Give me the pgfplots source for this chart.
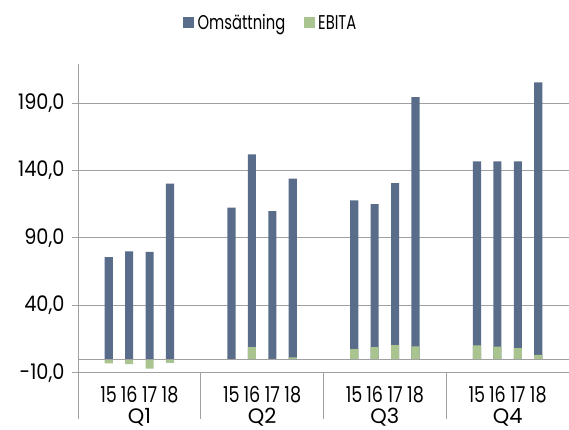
\documentclass[border=0pt]{standalone}
\usepackage{fontspec}
\setmainfont{Poppins}
\newfontfamily\tickfont{Poppins}[FakeStretch=0.9]
\newfontfamily\yearfont{Poppins}[FakeStretch=0.8]
\newfontfamily\legfont{Poppins}[FakeStretch=0.74]
\newfontfamily\qfont{Poppins}[FakeStretch=1.0]
\usepackage{pgfplots}
\pgfplotsset{compat=1.18}
\definecolor{oms}{RGB}{89,109,139}
\definecolor{ebita}{RGB}{169,196,142}
\definecolor{gridc}{RGB}{160,160,160}
\begin{document}
\begin{tikzpicture}
\begin{axis}[
  at={(0,0)}, anchor=south west,
  scale only axis, width=491bp, height=308.7bp,
  xmin=0, xmax=24, ymin=-10, ymax=219,
  clip=false,
  axis lines*=left,
  axis line style={gridc, line width=0.9bp},
  ytick={-10,40,90,140,190},
  ymajorgrids, grid style={gridc, line width=0.9bp},
  tick align=outside, major tick length=6bp,
  y tick style={gridc, line width=0.9bp},
  x tick style={draw=none},
  /pgf/number format/fixed, /pgf/number format/fixed zerofill,
  /pgf/number format/precision=1, /pgf/number format/use comma,
  /pgf/number format/assume math mode=true,
  yticklabel style={font=\tickfont\fontsize{21.5}{24}\selectfont, xshift=-4bp},
  xtick={1.5,2.5,3.5,4.5,7.5,8.5,9.5,10.5,13.5,14.5,15.5,16.5,19.5,20.5,21.5,22.5},
  xticklabels={15,16,17,18,15,16,17,18,15,16,17,18,15,16,17,18},
  xticklabel style={font=\yearfont\fontsize{22}{24}\selectfont, anchor=base, yshift=-23.5bp},
  ybar, bar width=0.4,
  legend columns=2,
  legend style={draw=none, fill=none, font=\legfont\fontsize{20}{22}\selectfont,
    at={(0.392,1.133)}, anchor=center,
    /tikz/every even column/.append style={column sep=17bp}},
]
\addplot[fill=oms, draw=none, bar shift=0pt,
  legend image code/.code={\fill[oms] (0bp,-5.5bp) rectangle (11bp,5.5bp); \path (13bp,0);}]
  coordinates {
  (1.5,75.8) (2.5,80.0) (3.5,79.7) (4.5,130.2)
  (7.5,112.4) (8.5,151.9) (9.5,109.9) (10.5,133.9)
  (13.5,117.8) (14.5,115.1) (15.5,130.7) (16.5,194.5)
  (19.5,146.7) (20.5,146.7) (21.5,146.7) (22.5,205.3)
  };
\addlegendentry{Omsättning}
\addplot[fill=ebita, draw=none, bar shift=0pt,
  legend image code/.code={\fill[ebita] (0bp,-5.5bp) rectangle (11bp,5.5bp); \path (12bp,0);}]
  coordinates {
  (1.5,-3.1) (2.5,-3.6) (3.5,-7.0) (4.5,-2.8)
  (7.5,0) (8.5,9.0) (9.5,0.3) (10.5,1.3)
  (13.5,7.5) (14.5,9.0) (15.5,10.5) (16.5,9.5)
  (19.5,10.2) (20.5,9.3) (21.5,8.3) (22.5,3.3)
  };
\addlegendentry{EBITA}
\draw[gridc, line width=0.9bp] (axis cs:0,0) -- (axis cs:24,0);
\draw[gridc, line width=0.9bp] (axis cs:0,-10) -- ++(0,-60bp);
\draw[gridc, line width=0.9bp] (axis cs:6,-10) -- ++(0,-60bp);
\draw[gridc, line width=0.9bp] (axis cs:12,-10) -- ++(0,-60bp);
\draw[gridc, line width=0.9bp] (axis cs:18,-10) -- ++(0,-60bp);
\node[anchor=base, inner sep=0pt, font=\qfont\fontsize{21}{24}\selectfont] at ([yshift=-50.5bp]axis cs:3,-10) {Q1};
\node[anchor=base, inner sep=0pt, font=\qfont\fontsize{21}{24}\selectfont] at ([yshift=-50.5bp]axis cs:9,-10) {Q2};
\node[anchor=base, inner sep=0pt, font=\qfont\fontsize{21}{24}\selectfont] at ([yshift=-50.5bp]axis cs:15,-10) {Q3};
\node[anchor=base, inner sep=0pt, font=\qfont\fontsize{21}{24}\selectfont] at ([yshift=-50.5bp]axis cs:21,-10) {Q4};
\end{axis}
\pgfresetboundingbox
\useasboundingbox (-78bp,-57.3bp) rectangle (491bp,372.7bp);
\end{tikzpicture}
\end{document}
